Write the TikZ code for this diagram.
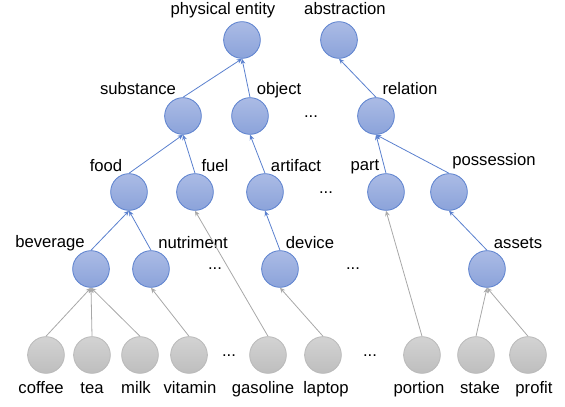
\documentclass[tikz,border=0pt]{standalone}
\usepackage{fontspec}
\setmainfont{Liberation Sans}
\usetikzlibrary{arrows.meta}
\definecolor{wnTop}{HTML}{ABBBE5}
\definecolor{wnBottom}{HTML}{8BA3DA}
\definecolor{wnEdge}{HTML}{5A80CE}
\definecolor{wnLeafTop}{HTML}{D3D3D3}
\definecolor{wnLeafBottom}{HTML}{BEBEBE}
\definecolor{wnLeafEdge}{HTML}{B9B9B9}
\definecolor{wnLeafLine}{HTML}{A8A8A8}
\tikzset{
  synset/.style={
    circle, minimum size=27.5pt, inner sep=0pt, line width=0.6pt,
    draw=wnEdge, top color=wnTop, bottom color=wnBottom
  },
  leaf/.style={synset, draw=wnLeafEdge, top color=wnLeafTop, bottom color=wnLeafBottom},
  tag/.style={font=\fontsize{12.5}{14}\selectfont, anchor=base, inner sep=0pt},
  hyper/.style={-{Stealth[length=4pt, width=3.5pt]}, line width=0.6pt, wnEdge},
  leafhyper/.style={hyper, wnLeafLine}
}

\begin{document}
\begin{tikzpicture}[x=0.75pt, y=-0.75pt]
  \useasboundingbox (0,0) rectangle (565,407);

  % synsets with their names
  \foreach \name/\x/\y/\lx/\ly/\text in {
    physical/242/40/223/15/physical entity,
    abstraction/339/40/345/15/abstraction,
    substance/183/116/138/94.5/substance,
    object/250/116/279/94/object,
    relation/376/116/410/94.5/relation,
    food/129/192/106/171.5/food,
    fuel/195/192/215/171.5/fuel,
    artifact/265/192/296/171.5/artifact,
    part/386/192/365/170.5/part,
    possession/449/192/494/165.5/possession,
    beverage/91/269/50/247.5/beverage,
    nutriment/151/269/193/248.5/nutriment,
    device/280/269/310/248.5/device,
    assets/487/269/518/248.5/assets}{
    \node[synset] (\name) at (\x,\y) {};
    \node[tag] (\name-lbl) at (\lx,\ly) {\text};
  }

  % words
  \foreach \name/\x/\lx in {
    coffee/46/41, tea/92/92, milk/140/136, vitamin/189/190,
    gasoline/268/263, laptop/323/326, portion/422/419,
    stake/476/480, profit/528/534}{
    \node[leaf] (\name) at (\x,355) {};
    \node[tag] (\name-lbl) at (\lx,393.5) {\name};
  }

  % elided parts
  \foreach \i/\x/\y in {1/311/117, 2/326/193, 3/215/269, 4/353/269, 5/229/356, 6/370/356}
    \node[tag] (gap\i) at (\x,\y) {...};

  \foreach \c/\p in {substance/physical, object/physical, relation/abstraction,
    food/substance, fuel/substance, artifact/object, part/relation,
    possession/relation, beverage/food, nutriment/food, device/artifact,
    assets/possession}
    \draw[hyper] (\c.north) -- (\p.south);

  \foreach \c/\p in {coffee/beverage, tea/beverage, milk/beverage,
    vitamin/nutriment, gasoline/fuel, laptop/device, portion/part,
    stake/assets, profit/assets}
    \draw[leafhyper] (\c.north) -- (\p.south);
\end{tikzpicture}
\end{document}
